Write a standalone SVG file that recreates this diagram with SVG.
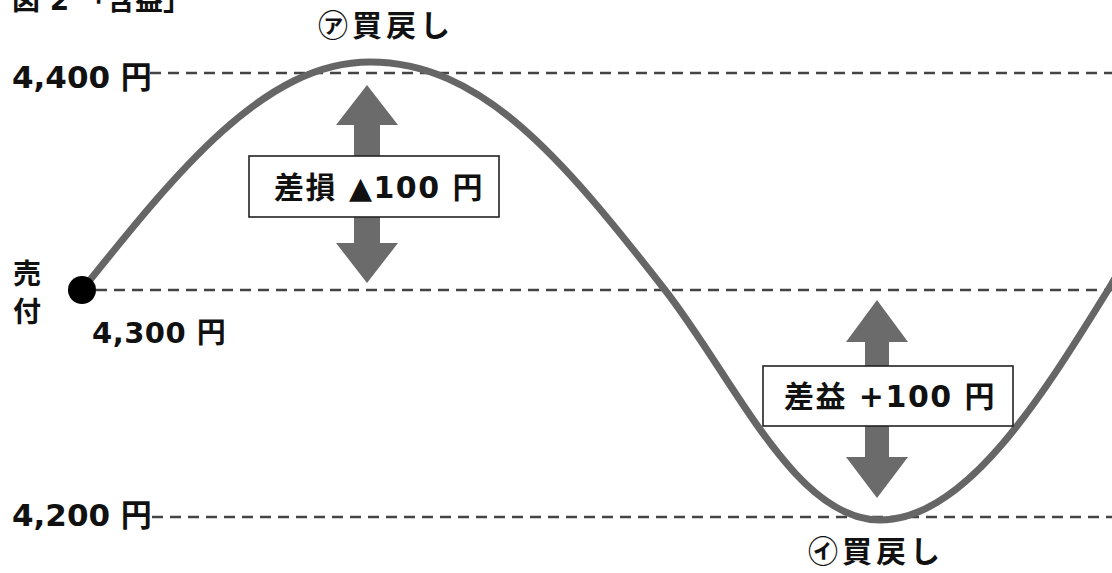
<svg xmlns="http://www.w3.org/2000/svg" width="1112" height="573" viewBox="0 0 1112 573">
<style>
.lbl{font-family:"DejaVu Sans","Noto Sans CJK JP",sans-serif;font-weight:bold;fill:#111}
.jp{font-family:"Noto Sans CJK JP",sans-serif;font-weight:bold;fill:#111}
.dash{stroke:#444;stroke-width:2.5;stroke-dasharray:11 7;fill:none}
.arrow{fill:#6b6b6b}
.box{fill:#fff;stroke:#222;stroke-width:1.6}
</style>
<rect width="1112" height="573" fill="#fff"/>
<text class="lbl" x="12" y="10" font-size="28">図 2 「含益」</text>
<g id="levels">
<line class="dash" x1="150" y1="73" x2="1112" y2="73"/>
<line class="dash" x1="96" y1="290" x2="1112" y2="290"/>
<line class="dash" x1="152" y1="517" x2="1112" y2="517"/>
</g>
<g id="curve">
<path d="M82,290 C178,170 265,62 370,62 C480,62 560,155 665,290 C735,380 795,520 880,520 C965,520 1040,400 1108,290 L1120,270" fill="none" stroke="#666" stroke-width="7"/>
</g>
<g id="label-4400"><text class="lbl" x="12" y="88" font-size="31">4,400 円</text></g>
<g id="label-4300"><text class="lbl" x="92" y="343" font-size="29" letter-spacing="0.5">4,300 円</text></g>
<g id="label-4200"><text class="lbl" x="12" y="526" font-size="31">4,200 円</text></g>
<g id="sell">
<text class="jp" x="13" y="284" font-size="28">売</text>
<text class="jp" x="13" y="322" font-size="28">付</text>
<circle cx="82" cy="290" r="14" fill="#000"/>
</g>
<g id="buyback-a"><text class="jp" x="318" y="36" font-size="30" letter-spacing="4">㋐買戻し</text></g>
<g id="buyback-i"><text class="jp" x="808" y="562" font-size="30" letter-spacing="4">㋑買戻し</text></g>
<g id="loss">
<polygon class="arrow" points="367,85 398,125 380,125 380,243 398,243 367,283 336,243 354,243 354,125 336,125"/>
<rect class="box" x="249" y="156" width="250" height="61"/>
<text class="lbl" x="379" y="198" font-size="30" letter-spacing="1.5" text-anchor="middle">差損 ▲100 円</text>
</g>
<g id="gain">
<polygon class="arrow" points="877,300 908,342 889,342 889,457 908,457 877,498 846,457 865,457 865,342 846,342"/>
<rect class="box" x="763" y="366" width="250" height="60"/>
<text class="lbl" x="890" y="407" font-size="30" letter-spacing="1.5" text-anchor="middle">差益 +100 円</text>
</g>
</svg>
